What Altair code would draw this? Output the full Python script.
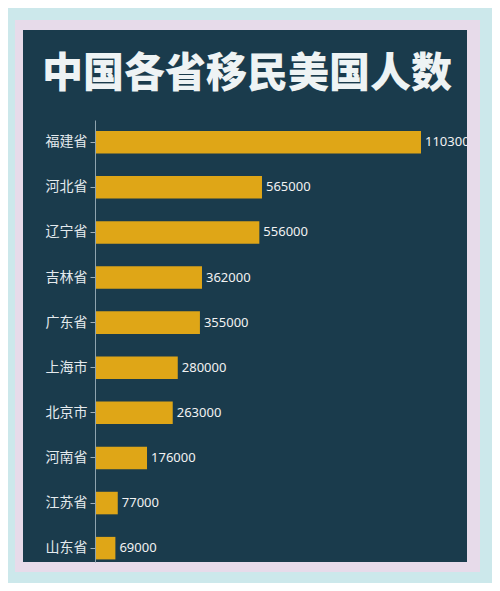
import altair as alt
import pandas as pd

provinces = ["福建省", "河北省", "辽宁省", "吉林省", "广东省", "上海市", "北京市", "河南省", "江苏省", "山东省"]
migrants = [1103000, 565000, 556000, 362000, 355000, 280000, 263000, 176000, 77000, 69000]

df = pd.DataFrame({"province": provinces, "count": migrants})
deco = pd.DataFrame({"k": [0]})

W, H = 372, 442
xscale = alt.Scale(domain=[0, 1258650], nice=False, zero=True)
yscale = alt.Scale(paddingInner=0.5, paddingOuter=0.15, align=0.81)

frame = alt.Chart(deco).mark_rect(color="#e7dbea").encode(
    x=alt.value(-80), x2=alt.value(385), y=alt.value(-100), y2=alt.value(452)
)
panel = alt.Chart(deco).mark_rect(color="#1a3b4c").encode(
    x=alt.value(-72), x2=alt.value(W), y=alt.value(-90), y2=alt.value(H)
)

ycode = alt.Y(
    "province:N",
    sort=provinces,
    scale=yscale,
    axis=alt.Axis(
        title=None,
        labelFont="Noto Sans CJK SC",
        labelFontSize=14,
        labelColor="#e4eaee",
        tickSize=5,
        tickColor="#9fb0ba",
        domainColor="#8ea3ae",
        labelPadding=3,
        zindex=1,
    ),
)
xcode = alt.X("count:Q", scale=xscale, axis=None)

bars = alt.Chart(df).mark_bar(color="#dfa617").encode(x=xcode, y=ycode)
labels = alt.Chart(df).mark_text(
    align="left", baseline="middle", dx=4, color="#f2f2f2", fontSize=13, font="Noto Sans", clip=True
).encode(x=xcode, y=ycode, text=alt.Text("count:Q", format="d"))

chart = alt.layer(frame, panel, bars, labels).properties(
    width=W,
    height=H,
    autosize="none",
    padding={"left": 87, "top": 112, "right": 25, "bottom": 21},
    background="#cce8eb",
    title=alt.Title(
        "中国各省移民美国人数",
        font="Noto Sans CJK SC",
        fontSize=41,
        fontWeight=900,
        color="#eef3f4",
        anchor="middle",
        frame="group",
        dx=-34,
        offset=-76,
    ),
).configure_view(stroke=None)

chart.save("out.html", embed_options={"renderer": "svg", "actions": False})
